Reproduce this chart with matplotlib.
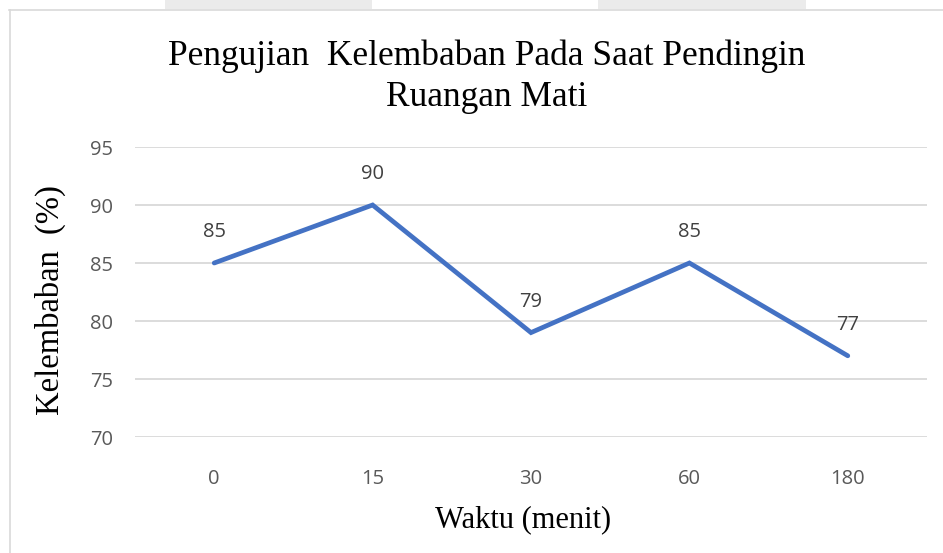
import matplotlib
matplotlib.use("Agg")
import matplotlib.pyplot as plt
from matplotlib.patches import Rectangle
from matplotlib.lines import Line2D

categories = ["0", "15", "30", "60", "180"]
values = [85, 90, 79, 85, 77]
yticks = [70, 75, 80, 85, 90, 95]

title = "Pengujian  Kelembaban Pada Saat Pendingin\nRuangan Mati"
xlabel = "Waktu (menit)"
ylabel = "Kelembaban  (%)"

W, H = 943, 553
fig = plt.figure(figsize=(W / 100, H / 100), dpi=100)
fig.patch.set_facecolor("white")

# top strip with gray tabs and chart border
for x0, x1 in [(165, 372), (598, 806)]:
    fig.patches.append(Rectangle((x0 / W, 1 - 9 / H), (x1 - x0) / W, 9 / H,
                                 transform=fig.transFigure, facecolor="#EBEBEB",
                                 edgecolor="none"))
fig.lines.append(Line2D([9 / W, 1], [1 - 9.5 / H, 1 - 9.5 / H], transform=fig.transFigure,
                        color="#D9D9D9", lw=1.2))
fig.lines.append(Line2D([9.5 / W, 9.5 / W], [0, 1 - 9.5 / H], transform=fig.transFigure,
                        color="#D9D9D9", lw=1.2))

ax = fig.add_axes([135 / W, 116 / H, (927 - 135) / W, (437 - 147) / H])
ax.set_facecolor("none")
x = list(range(len(categories)))
ax.plot(x, values, color="#4472C4", lw=3.4, solid_capstyle="round",
        solid_joinstyle="miter", zorder=3)

tick_font = "Open Sans"
for xi, v in zip(x, values):
    ax.annotate(str(v), (xi, v), xytext=(0, 31), textcoords="offset pixels",
                ha="center", va="center", fontsize=14.5, color="#404040",
                family=tick_font)

ax.set_xlim(-0.5, len(categories) - 0.5)
ax.set_ylim(yticks[0], yticks[-1])
ax.set_yticks(yticks)
ax.set_xticks(x)
ax.set_xticklabels(categories)
ax.grid(axis="y", color="#D9D9D9", lw=1.3)
ax.set_axisbelow(True)
for s in ax.spines.values():
    s.set_visible(False)
ax.tick_params(axis="both", length=0, labelsize=14.5, labelcolor="#595959")
ax.tick_params(axis="x", pad=23)
ax.tick_params(axis="y", pad=16)
for lab in ax.get_xticklabels() + ax.get_yticklabels():
    lab.set_family(tick_font)

fig.text(487 / W, 1 - 77 / H, title, ha="center", va="center", fontsize=25.5,
         family="Liberation Serif", linespacing=1.32)
fig.text(523 / W, 1 - 520 / H, xlabel, ha="center", va="center", fontsize=22,
         family="Liberation Serif")
fig.text(50 / W, 1 - 300 / H, ylabel, ha="center", va="center", fontsize=23.5,
         family="Liberation Serif", rotation=90)

fig.savefig("out.png", dpi=100)
